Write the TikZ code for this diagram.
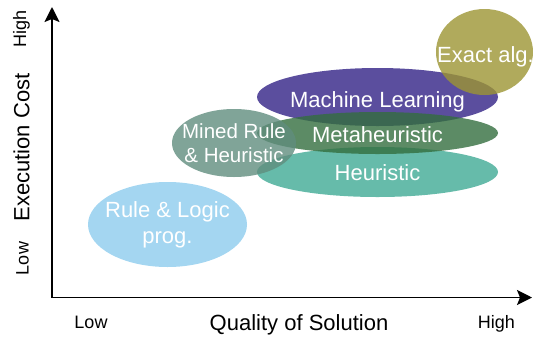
\documentclass[tikz,border=0pt]{standalone}
\usepackage{fontspec}
\setmainfont{Liberation Sans}
\usetikzlibrary{shapes.geometric,arrows.meta}
\definecolor{cRule}{HTML}{A4D6F1}
\definecolor{cMined}{HTML}{608D7E}
\definecolor{cML}{HTML}{5B4E9E}
\definecolor{cMeta}{HTML}{336E3E}
\definecolor{cHeur}{HTML}{66BBAA}
\definecolor{cExact}{HTML}{9C9533}
\tikzset{
  blob/.style={ellipse, draw=none, inner sep=0pt, outer sep=0pt},
  semi/.style={fill opacity=0.8},
  inlabel/.style={text=white, inner sep=0pt, align=center, font=\fontsize{22}{25.5}\selectfont},
  minedlabel/.style={text=white, inner sep=0pt, align=center, font=\fontsize{20.5}{24.5}\selectfont},
  axistitle/.style={inner sep=0pt, font=\fontsize{22}{26}\selectfont},
  axisend/.style={inner sep=0pt, font=\fontsize{18}{21}\selectfont},
  axisline/.style={line width=1.6pt, -{Stealth[length=15pt,width=15pt,inset=3pt]}}
}
\begin{document}
\begin{tikzpicture}[x=1pt,y=-1pt]
\useasboundingbox (0,0) rectangle (533,338);
% ellipses
\node[blob, fill=cHeur, minimum width=241pt, minimum height=50pt] (heur) at (377.5,172) {};
\node[blob, fill=cML, minimum width=241pt, minimum height=58pt] (ml) at (377.5,97) {};
\node[blob, fill=cMeta, semi, minimum width=241pt, minimum height=42pt] (meta) at (377.5,133) {};
\node[blob, fill=cMined, semi, minimum width=124pt, minimum height=68pt] (mined) at (234,143) {};
\node[blob, fill=cExact, semi, minimum width=97pt, minimum height=86pt] (exact) at (484.5,52) {};
\node[blob, fill=cRule, minimum width=159pt, minimum height=85pt] (rule) at (167.5,224.5) {};
% labels
\node[inlabel, anchor=base] (tml) at (377.5,107) {Machine Learning};
\node[inlabel, anchor=base] (tmeta) at (377.5,142) {Metaheuristic};
\node[inlabel, anchor=base] (theur) at (377.5,180) {Heuristic};
\node[inlabel, anchor=base] (texact) at (485.5,62) {Exact alg.};
\node[inlabel] (trule) at (167.5,225) {Rule \& Logic\\prog.};
\node[minedlabel] (tmined) at (234,143) {Mined Rule\\\& Heuristic};
% axes
\coordinate (origin) at (52,297.5);
\coordinate (ytip) at (52,7);
\coordinate (xtip) at (532,297.5);
\draw[axisline] (origin) -- (ytip);
\draw[axisline] (origin) -- (xtip);
% axis labels
\node[axistitle, anchor=base] (xlab) at (299,330) {Quality of Solution};
\node[axisend, anchor=base] (xlow) at (91,328) {Low};
\node[axisend, anchor=base] (xhigh) at (496.5,328) {High};
\node[axistitle, anchor=base, rotate=90] (ylab) at (29.3,147.5) {Execution Cost};
\node[axisend, anchor=base, rotate=90] (ylow) at (28.7,258.5) {Low};
\node[axisend, anchor=base, rotate=90] (yhigh) at (26,28.5) {High};
\end{tikzpicture}
\end{document}
